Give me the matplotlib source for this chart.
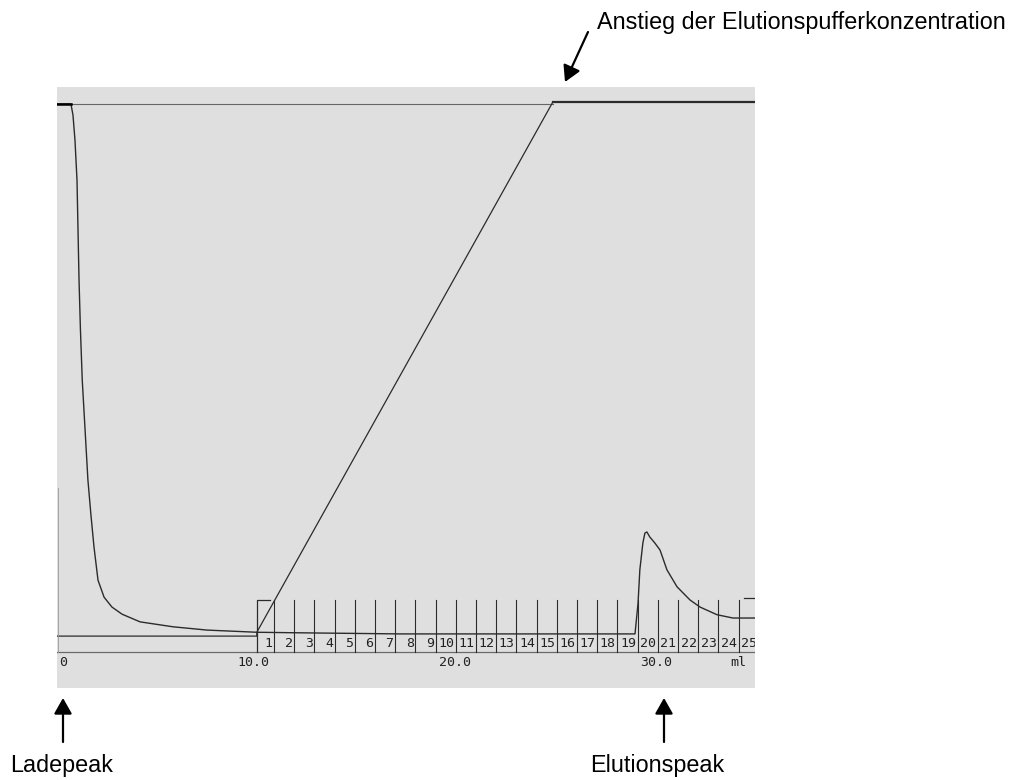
import numpy as np
import matplotlib
matplotlib.use("Agg")
import matplotlib.pyplot as plt

# ---------------------------------------------------------------
# values (x in ml, y in % of full scale)
# ---------------------------------------------------------------
uv_ml = [0.11, 0.80, 0.90, 1.00, 1.10, 1.15, 1.20, 1.27, 1.36, 1.50, 1.64, 1.79,
         1.94, 2.14, 2.44, 2.83, 3.33, 4.22, 5.85, 7.53, 10.01, 12.14, 17.09,
         22.04, 28.72, 28.87, 28.96, 29.11, 29.21, 29.31, 29.45, 29.70, 29.96,
         30.30, 30.80, 31.44, 31.94, 32.78, 33.57, 34.66]
uv_signal = [100.0, 100.0, 98.0, 93.4, 86.1, 77.0, 67.9, 58.8, 49.6, 40.5, 31.4, 25.0,
             19.2, 13.1, 10.0, 8.2, 6.9, 5.5, 4.6, 4.0, 3.6, 3.5, 3.3,
             3.3, 3.3, 8.9, 15.0, 19.9, 21.7, 21.9, 21.0, 19.9, 18.6,
             15.0, 11.9, 9.5, 8.2, 6.8, 6.2, 6.2]

gradient_ml = [0.11, 10.0, 10.0, 24.66, 34.66]
gradient_pct = [2.9, 2.9, 3.6, 100.4, 100.4]

frac_start = 10.0
frac_lines = [10.85 + k for k in range(24)]
frac_labels = [str(k + 1) for k in range(25)]

tick_pos = [0.4, 9.82, 19.81, 29.76, 33.82]
tick_labels = ["0", "10.0", "20.0", "30.0", "ml"]

XLIM = (0.11, 34.66)
YLIM = (-6.57, 103.1)

W, H = 1026, 780
fig = plt.figure(figsize=(W / 100, H / 100), dpi=100)
fig.patch.set_facecolor("white")

ax = fig.add_axes([57 / W, 1 - 688 / H, (755 - 57) / W, (688 - 87) / H])
ax.set_facecolor("#dfdfdf")
ax.set_xlim(*XLIM); ax.set_ylim(*YLIM)
ax.set_xticks([]); ax.set_yticks([])
for s in ax.spines.values():
    s.set_visible(False)

ink = "#2b2b2b"

# 100 % reference line and gradient
ax.plot([XLIM[0], 24.66], [100.0, 100.0], color="#666666", lw=0.8)
ax.plot(gradient_ml, gradient_pct, color=ink, lw=0.9)
ax.plot([24.66, XLIM[1]], [100.4, 100.4], color=ink, lw=1.6)

# UV trace
ax.plot(uv_ml, uv_signal, color=ink, lw=1.0)
ax.plot([XLIM[0], 0.80], [100.0, 100.0], color="black", lw=1.8)

# baseline / axis
ax.plot(XLIM, [0, 0], color="#6a6a6a", lw=0.9)
ax.plot([0.15, 0.15], [0, 30], color="#9a9a9a", lw=0.6)

# fraction collector marks
ax.plot([frac_start, frac_start, 10.65], [0, 9.5, 9.5], color=ink, lw=0.9)
for x in frac_lines:
    ax.plot([x, x], [0, 9.5], color=ink, lw=0.8)
ax.plot([34.12, XLIM[1]], [9.85, 9.85], color=ink, lw=0.9)

mono = dict(family="DejaVu Sans Mono", fontsize=9.5, color="#222222")
for k, lab in enumerate(frac_labels):
    x = frac_lines[k] - 0.08 if k < len(frac_lines) else frac_lines[-1] + 0.92
    ax.text(x, 1.55, lab, ha="right", va="center", clip_on=True, **mono)
for x, lab in zip(tick_pos, tick_labels):
    ax.text(x, -1.9, lab, ha="center", va="center", clip_on=True, **mono)

# annotations outside the scan
lbl = dict(family="Liberation Sans", fontsize=16.8, color="black")
fig.text(597 / W, 751 / H, "Anstieg der Elutionspufferkonzentration",
         ha="left", va="baseline", **lbl)
fig.text(10 / W, 8 / H, "Ladepeak", ha="left", va="baseline", **lbl)
fig.text(590 / W, 8 / H, "Elutionspeak", ha="left", va="baseline", **lbl)

arrow = dict(arrowstyle="-|>,head_length=0.6,head_width=0.34", color="black",
             lw=1.6, shrinkA=0, shrinkB=0, mutation_scale=16)
for tip, tail in [((63, 82), (63, 38)), ((664, 82), (664, 38)),
                  ((565, 698), (588, 748))]:
    fig.add_artist(matplotlib.patches.FancyArrowPatch(
        tail, tip, transform=None, **arrow))

fig.savefig("out.png", dpi=100)
